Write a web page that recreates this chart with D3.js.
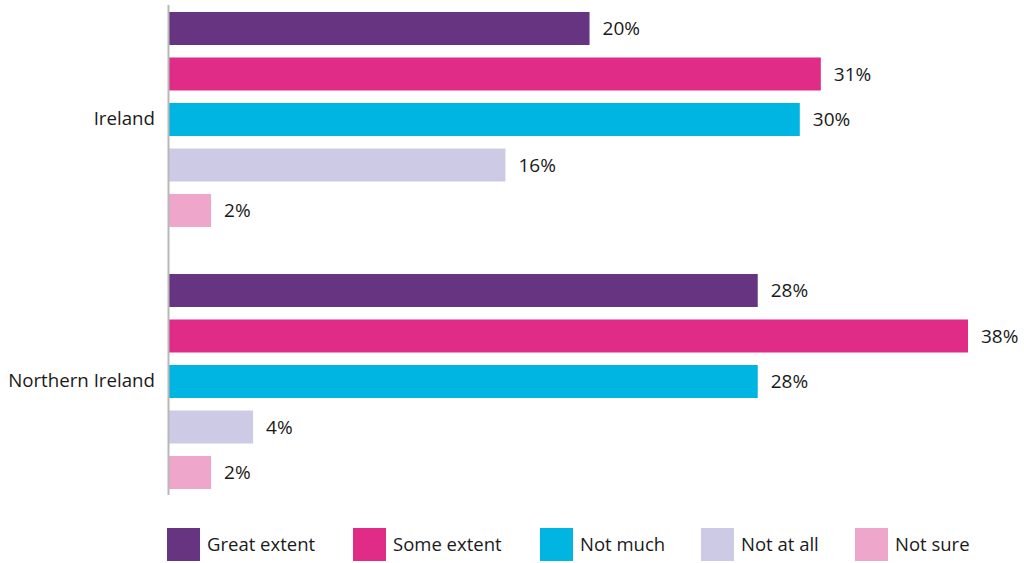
<!DOCTYPE html>
<html><head><meta charset="utf-8">
<script src="https://cdn.jsdelivr.net/npm/d3@7"></script>
<style>body{margin:0;background:#fff}svg{display:block;font-family:"Open Sans",sans-serif}</style>
</head><body><svg id="c" width="1024" height="563"></svg>
<script>
const countries = ["Ireland", "Northern Ireland"];
const series = ["Great extent", "Some extent", "Not much", "Not at all", "Not sure"];
const ireland = [20, 31, 30, 16, 2];
const northernIreland = [28, 38, 28, 4, 2];
const colors = ["#673482", "#E02B87", "#00B5E2", "#CDCAE6", "#EEA7CB"];

const values = {"Ireland": ireland, "Northern Ireland": northernIreland};
const svg = d3.select("#c");
const x = d3.scaleLinear().domain([0, 38]).range([169, 968]);
const y0 = d3.scaleBand().domain(countries).range([-11.5, 512.5]);
const y1 = d3.scaleBand().domain(series).range([0, y0.bandwidth()]).paddingInner(0.2747).paddingOuter(0.516);
const color = d3.scaleOrdinal().domain(series).range(colors);

const g = svg.selectAll("g.grp").data(countries).join("g").attr("class","grp")
  .attr("transform", d => `translate(0,${y0(d)})`);
g.selectAll("rect").data(c => series.map((s,i)=>({s, v: values[c][i]}))).join("rect")
  .attr("x", x(0)).attr("y", d => y1(d.s)).attr("height", y1.bandwidth())
  .attr("width", d => x(d.v) - x(0)).attr("fill", d => color(d.s));
g.selectAll("text.val").data(c => series.map((s,i)=>({s, v: values[c][i]}))).join("text")
  .attr("class","val").attr("x", d => x(d.v) + 13).attr("y", d => y1(d.s) + y1.bandwidth()/2)
  .attr("dy","0.35em").attr("font-size",19).attr("fill","#1a1a1a").text(d => d.v + "%");

const yAxis = d3.axisLeft(y0).tickSize(0).tickPadding(14);
const ax = svg.append("g").attr("transform", `translate(${x(0)},0)`).call(yAxis);
ax.select(".domain").remove();
ax.selectAll("text").attr("font-size",18.7).attr("fill","#1a1a1a").attr("font-family","Open Sans");
svg.append("line").attr("x1", x(0)-0.5).attr("x2", x(0)-0.5).attr("y1", 5).attr("y2", 495)
  .attr("stroke", "#b8b8b8").attr("stroke-width", 2);

const legX = [167, 353, 540, 701, 855];
const leg = svg.selectAll("g.leg").data(series).join("g").attr("class","leg")
  .attr("transform", (d,i) => `translate(${legX[i]},528)`);
leg.append("rect").attr("width",33).attr("height",33).attr("fill", d => color(d));
leg.append("text").attr("x",40).attr("y",16.5).attr("dy","0.35em").attr("font-size",18.5)
  .attr("fill","#1a1a1a").text(d => d);
</script></body></html>
